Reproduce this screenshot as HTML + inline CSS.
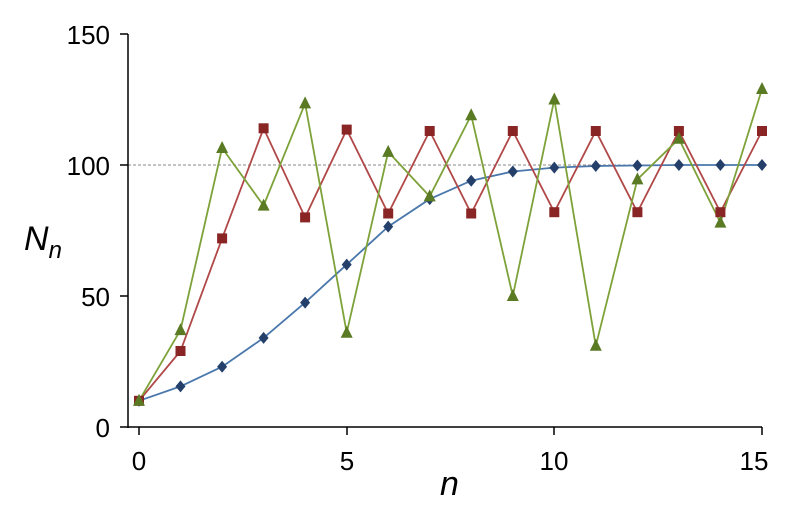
<!DOCTYPE html>
<html><head><style>body{margin:0;background:#fff}svg{display:block}</style></head><body>
<svg width="802" height="512" xmlns="http://www.w3.org/2000/svg" font-family="Liberation Sans, sans-serif">
<defs>
<polygon id="d" points="0,-6 5,0 0,6 -5,0" fill="#24406a"/>
<rect id="s" x="-5" y="-5" width="10" height="10" fill="#8a2525"/>
<polygon id="t" points="0,-7 6,5 -6,5" fill="#5a7a24"/>
</defs>
<line x1="128" y1="165" x2="762" y2="165" stroke="#888" stroke-width="1" stroke-dasharray="3,2"/>
<g stroke="#000" stroke-width="1.5">
<line x1="128" y1="34" x2="128" y2="428"/>
<line x1="128" y1="427" x2="762" y2="427"/>
<line x1="120" y1="34" x2="128" y2="34"/><line x1="120" y1="165" x2="128" y2="165"/>
<line x1="120" y1="296" x2="128" y2="296"/><line x1="120" y1="427" x2="128" y2="427"/>
<line x1="139" y1="427" x2="139" y2="435"/><line x1="347" y1="427" x2="347" y2="435"/>
<line x1="554" y1="427" x2="554" y2="435"/><line x1="762" y1="427" x2="762" y2="435"/>
</g>
<g font-size="26" text-anchor="end" fill="#000">
<text x="110" y="44">150</text><text x="110" y="175">100</text><text x="110" y="306">50</text><text x="110" y="437">0</text>
</g>
<g font-size="26" text-anchor="middle" fill="#000">
<text x="139" y="470">0</text><text x="347" y="470">5</text><text x="554" y="470">10</text><text x="754" y="470">15</text>
</g>
<text x="24" y="250" font-size="34" font-style="italic">N<tspan font-size="24" dy="8">n</tspan></text>
<text x="440" y="495" font-size="34" font-style="italic">n</text>

<polyline fill="none" stroke="#4a78ac" stroke-width="1.8" points="139,400.8 180.5,386.4 222.1,366.7 263.6,337.9 305.1,302.6 346.7,264.6 388.2,226.6 429.7,199.1 471.2,180.7 512.8,171.5 554.3,167.6 595.8,166 637.4,165.5 678.9,165 720.4,165 762,165"/>
<polyline fill="none" stroke="#b04848" stroke-width="1.8" points="139,400.8 180.5,351 222.1,238.4 263.6,128.3 305.1,217.4 346.7,129.6 388.2,213.5 429.7,131 471.2,213.5 512.8,131 554.3,212.2 595.8,131 637.4,212.2 678.9,131 720.4,212.2 762,131"/>
<polyline fill="none" stroke="#7ea23a" stroke-width="1.8" points="139,400.8 180.5,330.1 222.1,148 263.6,205.6 305.1,103.4 346.7,332.7 388.2,151.9 429.7,196.4 471.2,115.2 512.8,296 554.3,99.5 595.8,345.8 637.4,179.4 678.9,138.8 720.4,222.6 762,89"/>

<g>
<use href="#d" x="139" y="400.8"/><use href="#d" x="180.5" y="386.4"/><use href="#d" x="222.1" y="366.7"/><use href="#d" x="263.6" y="337.9"/><use href="#d" x="305.1" y="302.6"/><use href="#d" x="346.7" y="264.6"/><use href="#d" x="388.2" y="226.6"/><use href="#d" x="429.7" y="199.1"/><use href="#d" x="471.2" y="180.7"/><use href="#d" x="512.8" y="171.5"/><use href="#d" x="554.3" y="167.6"/><use href="#d" x="595.8" y="166"/><use href="#d" x="637.4" y="165.5"/><use href="#d" x="678.9" y="165"/><use href="#d" x="720.4" y="165"/><use href="#d" x="762" y="165"/>
</g>
<g>
<use href="#s" x="139" y="400.8"/><use href="#s" x="180.5" y="351"/><use href="#s" x="222.1" y="238.4"/><use href="#s" x="263.6" y="128.3"/><use href="#s" x="305.1" y="217.4"/><use href="#s" x="346.7" y="129.6"/><use href="#s" x="388.2" y="213.5"/><use href="#s" x="429.7" y="131"/><use href="#s" x="471.2" y="213.5"/><use href="#s" x="512.8" y="131"/><use href="#s" x="554.3" y="212.2"/><use href="#s" x="595.8" y="131"/><use href="#s" x="637.4" y="212.2"/><use href="#s" x="678.9" y="131"/><use href="#s" x="720.4" y="212.2"/><use href="#s" x="762" y="131"/>
</g>
<g>
<use href="#t" x="139" y="400.8"/><use href="#t" x="180.5" y="330.1"/><use href="#t" x="222.1" y="148"/><use href="#t" x="263.6" y="205.6"/><use href="#t" x="305.1" y="103.4"/><use href="#t" x="346.7" y="332.7"/><use href="#t" x="388.2" y="151.9"/><use href="#t" x="429.7" y="196.4"/><use href="#t" x="471.2" y="115.2"/><use href="#t" x="512.8" y="296"/><use href="#t" x="554.3" y="99.5"/><use href="#t" x="595.8" y="345.8"/><use href="#t" x="637.4" y="179.4"/><use href="#t" x="678.9" y="138.8"/><use href="#t" x="720.4" y="222.6"/><use href="#t" x="762" y="89"/>
</g>
</svg>
</body></html>
